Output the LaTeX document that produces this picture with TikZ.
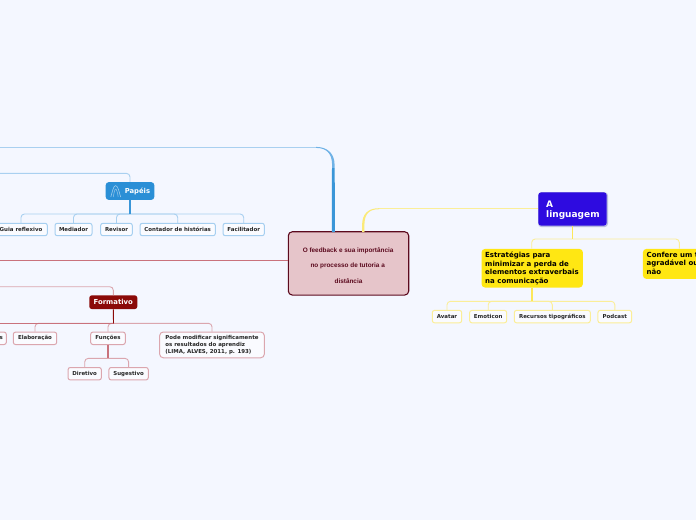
\documentclass[tikz,border=0pt]{standalone}
\usepackage{fontspec}
\setmainfont{DejaVu Sans}
\newfontfamily\arialfont{Liberation Sans}
\definecolor{bgc}{HTML}{F4F7FF}
\definecolor{bluelink}{HTML}{A9D0F0}
\definecolor{bluemain}{HTML}{3A96D8}
\definecolor{bluemid}{HTML}{6FB2E6}
\definecolor{bluetopic}{HTML}{2A8FD6}
\definecolor{blueleaf}{HTML}{A6CFF0}
\definecolor{redlink}{HTML}{DBA6AE}
\definecolor{reddark}{HTML}{8B0A08}
\definecolor{redmain}{HTML}{C9727C}
\definecolor{yellink}{HTML}{FBEE98}
\definecolor{yelmain}{HTML}{FCE75A}
\definecolor{yelmid}{HTML}{FBEA78}
\definecolor{yeltopic}{HTML}{FFE713}
\definecolor{lingfill}{HTML}{2E0BE0}
\definecolor{lingedge}{HTML}{B9BBE0}
\definecolor{centerfill}{HTML}{E6C5CA}
\definecolor{centerline}{HTML}{5C0A1E}
\tikzset{
  x=1pt,y=-1pt,
  leaf/.style={draw,line width=1pt,fill=bgc!50!white,rounded corners=2.2pt,inner sep=0pt,
    minimum height=12.4pt,font=\bfseries\fontsize{5.45}{7}\selectfont,text=black!85},
  blueleafbox/.style={leaf,draw=blueleaf},
  redleafbox/.style={leaf,draw=redlink},
  yelleafbox/.style={leaf,draw=yellink},
  bluelk/.style={draw=bluelink,line width=0.9pt,rounded corners=3.5pt},
  redlk/.style={draw=redlink,line width=0.9pt,rounded corners=3.5pt},
  yellk/.style={draw=yellink,line width=0.9pt,rounded corners=3.5pt},
  yelbox/.style={fill=yeltopic,rounded corners=3.5pt,inner sep=0pt,anchor=north west},
  yeltxt/.style={anchor=north west,inner sep=0pt,font=\bfseries\fontsize{7}{8.6}\selectfont,align=left,text=black},
  ctxt/.style={font=\arialfont\bfseries\fontsize{6.4}{7}\selectfont,text=centerline},
  lingtxt/.style={anchor=west,inner sep=0pt,font=\bfseries\fontsize{9}{11}\selectfont,text=white},
}
\begin{document}
\begin{tikzpicture}
\useasboundingbox (0,0) rectangle (696,520);
\fill[bgc] (0,0) rectangle (696,520);

% free ends
\coordinate (blueend) at (0,147.4);
\coordinate (papend) at (0,173.4);
\coordinate (redend) at (0,260.4);
\coordinate (forend) at (0,286.7);
\coordinate (lingbend) at (363.3,208.7);

% centre
\node[draw=centerline,fill=centerfill,line width=1.1pt,rounded corners=4pt,minimum width=120.4pt,minimum height=63.3pt,inner sep=0pt] (center) at (348.5,263.4) {};
\node[ctxt] (cl1) at (348.1,250.3) {O feedback e sua importância};
\node[ctxt] (cl2) at (347.7,265.6) {no processo de tutoria a};
\node[ctxt] (cl3) at (348.5,281) {distância};

% Papéis branch
\node[fill=bluetopic,rounded corners=3pt,inner sep=0pt,minimum width=48.6pt,minimum height=17.7pt] (papeis) at (130,191) {};
\node[font=\bfseries\fontsize{6.8}{9}\selectfont,text=white,inner sep=0pt,anchor=west] (paptxt) at (124.6,191.2) {Papéis};
\draw[white!55!bluetopic,line width=0.6pt,line join=round] (110.8,197) .. controls (112.5,191) and (113.5,185.8) .. (115.6,185.6) .. controls (117.8,185.8) and (119,191) .. (120.6,197);
\draw[white!45!bluetopic,line width=0.6pt,line join=round] (113.3,197) .. controls (114,192) and (115,189) .. (115.6,189) .. controls (116.4,189) and (117.5,192) .. (118.2,197);

\node[blueleafbox,minimum width=52.6pt] (guia) at (21,229.5) {Guia reflexivo};
\node[blueleafbox,minimum width=37pt] (mediador) at (73.5,229.5) {Mediador};
\node[blueleafbox,minimum width=31.6pt] (revisor) at (116.5,229.5) {Revisor};
\node[blueleafbox,minimum width=75.3pt] (contador) at (177.7,229.5) {Contador de histórias};
\node[blueleafbox,minimum width=41.3pt] (facil) at (243.7,229.5) {Facilitador};

\coordinate (papbus) at (130,214);
\draw[bluelk] (papeis.north) |- (papend);
\draw[bluelk] (guia.north) |- (papbus);
\draw[bluelk] (mediador.north) |- (papbus);
\draw[bluelk] (revisor.north) |- (papbus);
\draw[bluelk] (contador.north) |- (papbus);
\draw[bluelk] (facil.north) |- (papbus);
\draw[draw=bluemain,line width=1.6pt] (papeis.south) -- (papbus);

% blue main link, tapering towards the free end
\draw[bluelink,line width=0.9pt] (blueend) -- (316,147.4);
\fill[bluemid] (334.6,168) -- (334.6,165) .. controls (334.6,153) and (327,146.9) .. (316,146.9)
  -- (316,147.9) .. controls (326,147.9) and (332.1,153) .. (332.1,165) -- (332.1,168) -- cycle;
\fill[bluemain] (332,168) -- (334.7,168) -- (334.9,232) -- (331.8,232) -- cycle;

% red main
\draw[redmain,line width=0.8pt] (center.west |- redend) -- (redend);

% Formativo branch
\node[fill=reddark,rounded corners=2.5pt,inner sep=0pt,font=\bfseries\fontsize{6.9}{9}\selectfont,text=white,minimum width=48pt,minimum height=13.7pt] (formativo) at (113.3,302.2) {Formativo};
\node[redleafbox,minimum width=26pt] (leftnode) at (-6.7,338.3) {};
\node[inner sep=0pt,font=\bfseries\fontsize{5.45}{7}\selectfont,text=black!85] (lefttxt) at (1.2,338.3) {s};
\node[redleafbox,minimum width=43.4pt] (elabor) at (35,338.3) {Elaboração};
\node[redleafbox,minimum width=34.6pt] (funcoes) at (108,338.3) {Funções};
\node[redleafbox,rounded corners=3.5pt,minimum width=104.6pt,minimum height=25.7pt,align=left,font=\bfseries\fontsize{5.45}{6.6}\selectfont] (pode) at (212,344.9) {Pode modificar significamente\\os resultados do aprendiz\\(LIMA, ALVES, 2011, p. 193)};
\node[redleafbox,minimum width=33.3pt] (diretivo) at (84.7,373.7) {Diretivo};
\node[redleafbox,minimum width=39.3pt] (sugestivo) at (128.6,373.7) {Sugestivo};

\coordinate (forbus) at (113.5,323.3);
\coordinate (funbus) at (108,358.4);
\draw[redlk] (formativo.north) |- (forend);
\draw[redlk] (elabor.north) |- (forbus);
\draw[redlk] (funcoes.north) |- (forbus);
\draw[redlk] (pode.north) |- (forbus);
\draw[redmain,line width=0.9pt] (forbus) -- (0,323.3);
\draw[reddark,line width=0.9pt] (formativo.south) -- (forbus);
\draw[redlk] (diretivo.north) |- (funbus);
\draw[redlk] (sugestivo.north) |- (funbus);
\draw[redmain,line width=1.3pt] (funcoes.south) -- (funbus);

% A linguagem branch
\node[fill=lingedge,rounded corners=3.5pt,minimum width=70pt,minimum height=35pt,inner sep=0pt] (lingshadow) at (573,209.6) {};
\node[fill=lingfill,rounded corners=3pt,minimum width=68.4pt,minimum height=33.4pt,inner sep=0pt] (ling) at (572.5,209) {};
\node[lingtxt] (lingt1) at (546,204) {A};
\node[lingtxt] (lingt2) at (546,215.2) {linguagem};

\draw[yellink,line width=0.9pt] (379,208.7) -- (ling.west |- lingbend);
\fill[yelmid] (364.5,232) -- (364.4,225) .. controls (364.4,214) and (369,209.2) .. (379,209.2)
  -- (379,208.2) .. controls (368,208.2) and (362.1,214) .. (362.1,225) -- (362,232) -- cycle;

\node[yelbox,minimum width=101.4pt,minimum height=38.6pt] (estr) at (481.3,248.7) {};
\node[yeltxt] (estrt) at (485,251.6) {Estratégias para\\minimizar a perda de\\elementos extraverbais\\na comunicação};
\node[yelbox,minimum width=60pt,minimum height=30pt] (conf) at (642.7,248.7) {};
\node[yeltxt] (conft) at (646.5,251.6) {Confere um t\\agradável ou\\não};

\coordinate (lingbus) at (572.7,239);
\draw[yellk] (531.7,248.7) |- (lingbus);
\draw[yellk] (679.3,248.7) |- (lingbus);
\draw[yelmain,line width=0.9pt] (ling.south -| lingbus) -- (lingbus);

\node[yelleafbox,minimum width=29.4pt] (avatar) at (447,316.6) {Avatar};
\node[yelleafbox,minimum width=37pt] (emoticon) at (488.2,316.6) {Emoticon};
\node[yelleafbox,minimum width=76pt] (recursos) at (552.3,316.6) {Recursos tipográficos};
\node[yelleafbox,minimum width=33.7pt] (podcast) at (614.8,316.6) {Podcast};

\coordinate (estbus) at (532,301.3);
\draw[yellk] (avatar.north) |- (estbus);
\draw[yellk] (emoticon.north) |- (estbus);
\draw[yellk] (recursos.north) |- (estbus);
\draw[yellk] (podcast.north) |- (estbus);
\draw[yelmain,line width=1.4pt] (estr.south -| estbus) -- (estbus);
\end{tikzpicture}
\end{document}
